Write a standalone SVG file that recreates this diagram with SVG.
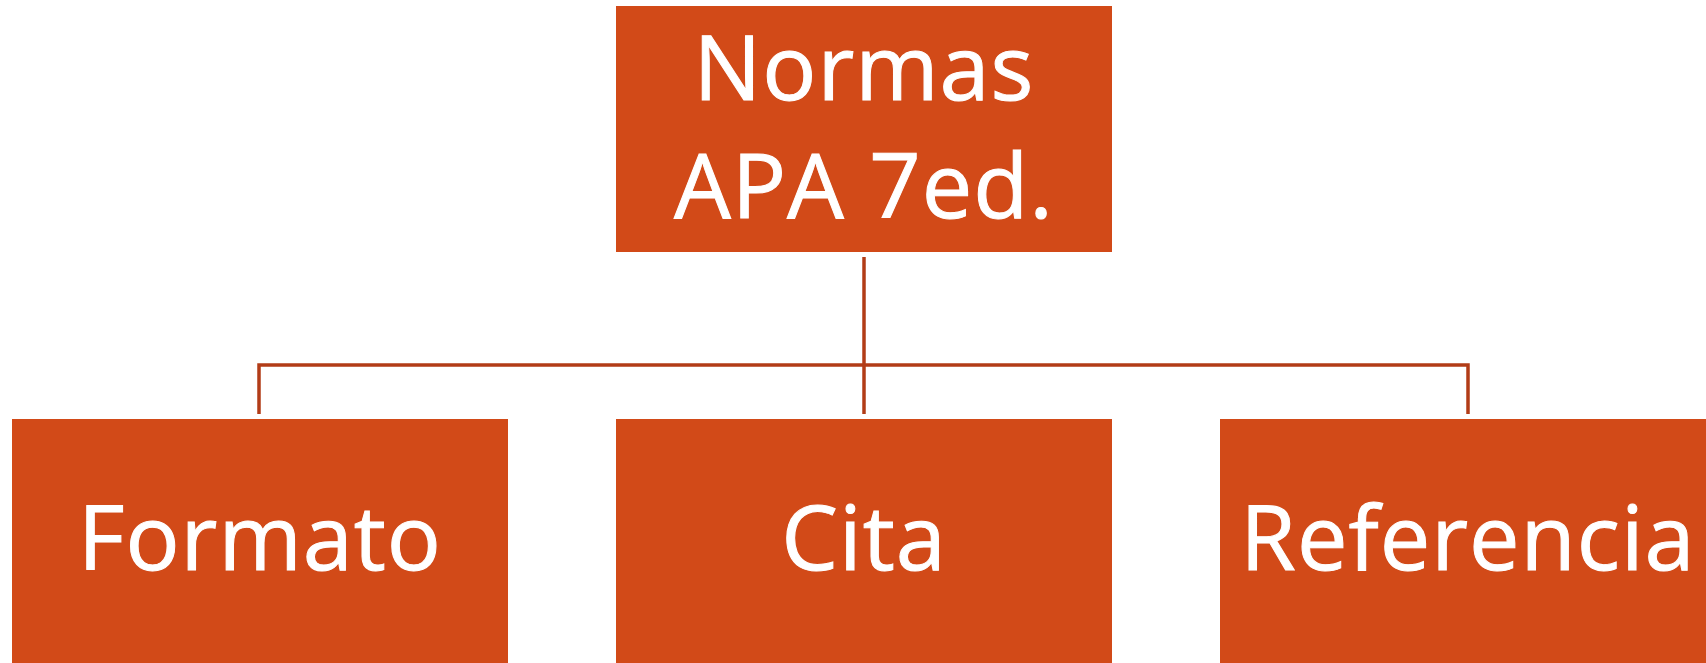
<svg xmlns="http://www.w3.org/2000/svg" width="1706" height="663" viewBox="0 0 1706 663">
<style>
.box{fill:#D24A18;}
.lbl{fill:#FFFFFF;stroke:#FFFFFF;stroke-width:1px;font-family:"Open Sans","Noto Sans",sans-serif;font-size:90px;letter-spacing:1px;text-anchor:middle;}
.con{stroke:#B23C17;stroke-width:3.5;fill:none;}
</style>
<rect width="1706" height="663" fill="#FFFFFF"/>
<g id="connectors">
<path class="con" d="M864 257 V414"/>
<path class="con" d="M259 414 V365 H1468 V414"/>
</g>
<g id="n-root">
<rect class="box" x="616" y="6" width="496" height="246"/>
<text class="lbl" x="864" y="100">Normas</text>
<text class="lbl" x="864" y="218">APA 7ed.</text>
</g>
<g id="n-formato">
<rect class="box" x="12" y="419" width="496" height="260"/>
<text class="lbl" x="260" y="570">Formato</text>
</g>
<g id="n-cita">
<rect class="box" x="616" y="419" width="496" height="260"/>
<text class="lbl" x="864" y="570">Cita</text>
</g>
<g id="n-referencia">
<rect class="box" x="1220" y="419" width="496" height="260"/>
<text class="lbl" x="1468" y="570">Referencia</text>
</g>
</svg>
